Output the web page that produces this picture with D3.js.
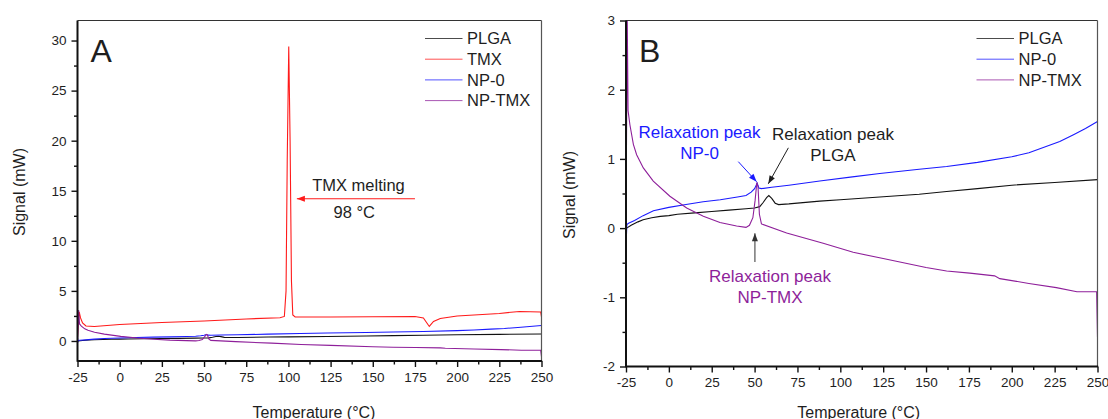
<!DOCTYPE html>
<html>
<head>
<meta charset="utf-8">
<script src="https://cdn.jsdelivr.net/npm/d3@7"></script>
<style>
  body{margin:0;background:#fff;}
  svg text{font-family:"Liberation Sans",Arial,sans-serif;fill:#1e1e1e;}
</style>
</head>
<body>
<svg id="chart" width="1108" height="419"></svg>
<script>
// ---- data (temperature °C, signal mW) ----
const TEMP_TICKS=[-25,0,25,50,75,100,125,150,175,200,225,250];
const SIGNAL_TICKS_A=[0,5,10,15,20,25,30];
const SIGNAL_TICKS_B=[-2,-1,0,1,2,3];

const PLGA=[[-25,-0.02],[-24.6,0.0],[-22,0.04],[-18,0.09],[-15,0.12],[-10,0.15],[-5,0.17],[0,0.18],
  [5,0.2],[15,0.22],[25,0.24],[35,0.26],[45,0.28],[50,0.29],[53,0.31],[55,0.37],[57,0.44],[58.3,0.47],
  [60,0.43],[62,0.36],[64,0.34],[70,0.35],[88,0.39],[100,0.41],[123,0.45],[146,0.49],[162,0.53],
  [180,0.57],[200,0.62],[225,0.66],[250,0.70]];

const TMX=[[-25,0.4],[-24.6,1.6],[-24,2.9],[-23.2,2.3],[-22,1.8],[-20,1.5],[-15,1.45],[0,1.65],[25,1.85],
  [50,2.0],[75,2.2],[95,2.32],[97.6,2.45],[98.6,5],[99.3,18],[100.2,29.4],[101,20],[101.8,6],[102.6,2.6],
  [104,2.4],[125,2.4],[150,2.42],[175,2.45],[180,2.3],[183.5,1.45],[186,1.95],[190,2.25],[200,2.5],
  [225,2.75],[237,2.95],[249.5,2.9],[250,2.4]];

const NP0=[[-25,0.0],[-24.9,0.28],[-24.8,-0.14],[-24.5,0.05],[-23.5,0.07],[-20,0.11],[-15,0.18],[-9,0.25],
  [0,0.3],[10,0.34],[20,0.38],[30,0.41],[40,0.45],[45,0.47],[48,0.52],[50,0.57],[51.5,0.65],[52.5,0.58],
  [54,0.57],[60,0.59],[70,0.62],[88,0.68],[107,0.74],[123,0.79],[146,0.85],[162,0.89],[180,0.95],
  [200,1.03],[210,1.09],[220,1.18],[228,1.25],[236,1.35],[243,1.44],[250,1.54]];

const NPTMX=[[-25,0.0],[-24.6,1.7],[-24.3,3.1],[-23.8,1.7],[-22.7,1.49],[-20.7,1.21],[-18.8,1.06],
  [-14.9,0.87],[-9.1,0.68],[0.6,0.46],[10.4,0.29],[20.1,0.17],[29.8,0.08],[39.5,0.03],[45,0.01],[47,0.04],
  [49,0.15],[50.3,0.4],[51.3,0.66],[52,0.6],[52.8,0.2],[54,0.06],[68.7,-0.07],[90,-0.22],[107.5,-0.35],
  [125,-0.44],[150,-0.57],[162,-0.62],[175.5,-0.65],[190,-0.69],[193,-0.73],[210,-0.8],[226,-0.86],
  [238,-0.92],[249.5,-0.92],[250,-1.58]];

const COLORS={PLGA:"#111111",TMX:"#ff1a1a",NP0:"#1a1aff",NPTMX:"#8e1f9a"};

const SERIES_A=[
  {name:"PLGA",data:PLGA,color:COLORS.PLGA},
  {name:"TMX",data:TMX,color:COLORS.TMX},
  {name:"NP-0",data:NP0,color:COLORS.NP0},
  {name:"NP-TMX",data:NPTMX,color:COLORS.NPTMX}
];
const SERIES_B=[
  {name:"PLGA",data:PLGA,color:COLORS.PLGA},
  {name:"NP-0",data:NP0,color:COLORS.NP0},
  {name:"NP-TMX",data:NPTMX,color:COLORS.NPTMX}
];

const svg=d3.select("#chart");

function arrow(g,x1,y1,x2,y2,color){
  g.append("line").attr("x1",x1).attr("y1",y1).attr("x2",x2).attr("y2",y2)
    .attr("stroke",color).attr("stroke-width",1);
  const a=Math.atan2(y2-y1,x2-x1), L=8, W=3;
  const bx=x2-L*Math.cos(a), by=y2-L*Math.sin(a);
  const px=-Math.sin(a)*W, py=Math.cos(a)*W;
  g.append("path").attr("d",`M${x2},${y2}L${bx+px},${by+py}L${bx-px},${by-py}Z`).attr("fill",color);
}

function drawPanel(p){
  const x=d3.scaleLinear().domain([-25,250]).range([p.left,p.right]);
  const y=d3.scaleLinear().domain(p.yDomain).range([p.bottom,p.top]);
  const g=svg.append("g");

  const clipId="clip-"+p.letter;
  g.append("clipPath").attr("id",clipId).append("rect")
    .attr("x",p.left).attr("y",p.top).attr("width",p.right-p.left).attr("height",p.bottom-p.top);

  const line=d3.line().x(d=>x(d[0])).y(d=>y(d[1]));
  const plot=g.append("g").attr("clip-path",`url(#${clipId})`);
  p.series.forEach(s=>{
    plot.append("path").datum(s.data).attr("d",line)
      .attr("fill","none").attr("stroke",s.color).attr("stroke-width",1.1);
  });

  // frame: thin top/right, heavier left/bottom
  g.append("line").attr("x1",p.left).attr("x2",p.right).attr("y1",p.top).attr("y2",p.top)
    .attr("stroke","#333").attr("stroke-width",1.2);
  g.append("line").attr("x1",p.right).attr("x2",p.right).attr("y1",p.top).attr("y2",p.bottom)
    .attr("stroke","#555").attr("stroke-width",1.2);

  // minor ticks
  const xMinor=TEMP_TICKS.slice(0,-1).map(t=>t+12.5);
  const yStep=p.yTicks[1]-p.yTicks[0];
  const yMinor=p.yTicks.map(v=>v+yStep/2).filter(v=>v<p.yDomain[1]);
  g.append("g").attr("transform",`translate(0,${p.bottom})`)
    .call(d3.axisBottom(x).tickValues(xMinor).tickSize(3.5).tickFormat(""))
    .call(a=>a.select(".domain").remove())
    .call(a=>a.selectAll("line").attr("stroke","#111").attr("stroke-width",1.4));
  g.append("g").attr("transform",`translate(${p.left},0)`)
    .call(d3.axisLeft(y).tickValues(yMinor).tickSize(3.5).tickFormat(""))
    .call(a=>a.select(".domain").remove())
    .call(a=>a.selectAll("line").attr("stroke","#111").attr("stroke-width",1.4));

  // major ticks + labels
  g.append("g").attr("transform",`translate(0,${p.bottom})`)
    .call(d3.axisBottom(x).tickValues(TEMP_TICKS).tickSize(6).tickPadding(5).tickFormat(d=>String(d)))
    .call(a=>a.select(".domain").remove())
    .call(a=>a.selectAll("line").attr("stroke","#111").attr("stroke-width",1.4))
    .call(a=>a.selectAll("text").attr("fill","#1e1e1e").style("font-size","13.5px")
      .style("font-family","'Liberation Sans',Arial,sans-serif"));
  g.append("g").attr("transform",`translate(${p.left},0)`)
    .call(d3.axisLeft(y).tickValues(p.yTicks).tickSize(6).tickPadding(5).tickFormat(d=>String(d)))
    .call(a=>a.select(".domain").remove())
    .call(a=>a.selectAll("line").attr("stroke","#111").attr("stroke-width",1.4))
    .call(a=>a.selectAll("text").attr("fill","#1e1e1e").style("font-size","13.5px")
      .style("font-family","'Liberation Sans',Arial,sans-serif"));

  g.append("line").attr("x1",p.left).attr("x2",p.left).attr("y1",p.top).attr("y2",p.bottom+0.8)
    .attr("stroke","#111").attr("stroke-width",2);
  g.append("line").attr("x1",p.left).attr("x2",p.right+0.6).attr("y1",p.bottom).attr("y2",p.bottom)
    .attr("stroke","#111").attr("stroke-width",2);

  // axis titles
  g.append("text").attr("x",p.xTitleX).attr("y",417.5).attr("text-anchor","middle")
    .style("font-size","16px").text("Temperature (°C)");
  g.append("text").attr("transform",`translate(${p.yTitleX},${p.yTitleY}) rotate(-90)`)
    .attr("text-anchor","middle").style("font-size","16px").text("Signal (mW)");

  // panel letter
  g.append("text").attr("x",p.left+13).attr("y",p.top+41).style("font-size","32px").text(p.letter);

  // legend
  p.series.forEach((s,i)=>{
    const ly=p.top+18+i*20.7;
    g.append("line").attr("x1",p.right-p.legendDx).attr("x2",p.right-p.legendDx+37.5)
      .attr("y1",ly).attr("y2",ly).attr("stroke",s.color).attr("stroke-width",1).attr("opacity",0.75);
    g.append("text").attr("x",p.right-p.legendDx+42).attr("y",ly+5.8)
      .style("font-size","16.5px").text(s.name);
  });

  return {g,x,y};
}

// ---- panel A ----
const A=drawPanel({letter:"A",left:77.5,right:541.5,top:20.5,bottom:361,yDomain:[-2,32],
  yTicks:SIGNAL_TICKS_A,series:SERIES_A,xTitleX:314,yTitleX:25,yTitleY:192,legendDx:116.5});

arrow(A.g,A.x(175),A.y(14.2),A.x(105),A.y(14.2),"#ff1a1a");
A.g.append("text").attr("x",A.x(141.5)).attr("y",A.y(14.2)-7.3).attr("text-anchor","middle")
  .style("font-size","16.5px").text("TMX melting");
A.g.append("text").attr("x",A.x(139)).attr("y",A.y(14.2)+19.3).attr("text-anchor","middle")
  .style("font-size","16.5px").text("98 °C");

// ---- panel B ----
const B=drawPanel({letter:"B",left:626,right:1097.5,top:20.5,bottom:366.5,yDomain:[-2,3],
  yTicks:SIGNAL_TICKS_B,series:SERIES_B,xTitleX:858.7,yTitleX:575,yTitleY:195,legendDx:121});

function label2(panel,t,v,l1,l2,color){
  panel.g.append("text").attr("x",panel.x(t)).attr("y",panel.y(v)).attr("text-anchor","middle")
    .style("font-size","17px").style("fill",color).text(l1);
  panel.g.append("text").attr("x",panel.x(t)).attr("y",panel.y(v)+20.5).attr("text-anchor","middle")
    .style("font-size","17px").style("fill",color).text(l2);
}
label2(B,17.9,1.30,"Relaxation peak","NP-0","#1a1aff");
arrow(B.g,B.x(40.5),B.y(0.96),B.x(51.2),B.y(0.67),"#1a1aff");
label2(B,95.7,1.27,"Relaxation peak","PLGA","#1e1e1e");
arrow(B.g,B.x(69.7),B.y(1.16),B.x(58),B.y(0.64),"#1e1e1e");
label2(B,59,-0.78,"Relaxation peak","NP-TMX","#8e1f9a");
arrow(B.g,B.x(50.2),B.y(-0.49),B.x(50.2),B.y(-0.075),"#333");
</script>
</body>
</html>
